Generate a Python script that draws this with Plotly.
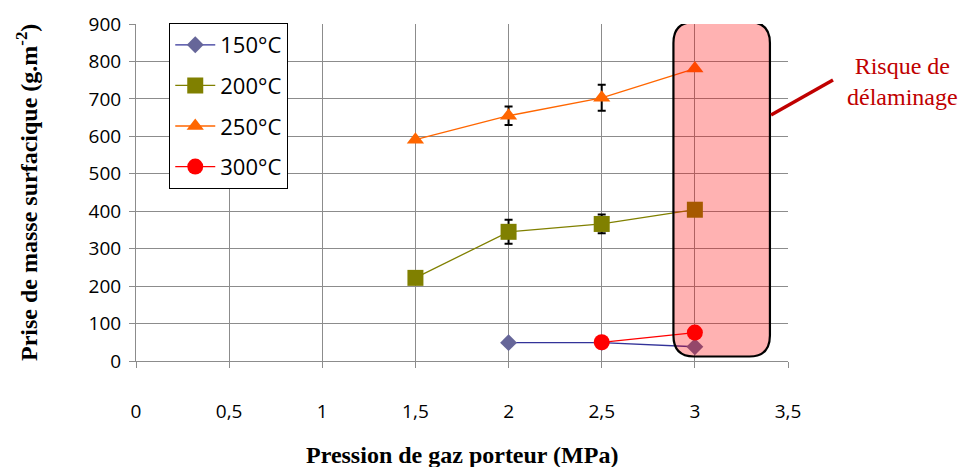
import plotly.graph_objects as go

# ---- data ----
x_150 = [2, 2.5, 3]
y_150 = [49, 49, 38]
x_200 = [1.5, 2, 2.5, 3]
y_200 = [222, 345, 366, 404]
err_200 = [0, 32, 25, 0]
x_250 = [1.5, 2, 2.5, 3]
y_250 = [591, 655, 703, 781]
err_250 = [0, 25, 35, 0]
x_300 = [2.5, 3]
y_300 = [50, 76]
names = ["150°C", "200°C", "250°C", "300°C"]
x_ticks = [0, 0.5, 1, 1.5, 2, 2.5, 3, 3.5]
x_ticktext = ["0", "0,5", "1", "1,5", "2", "2,5", "3", "3,5"]
y_ticks = [0, 100, 200, 300, 400, 500, 600, 700, 800, 900]
# risk zone (data units)
zone_x = [2.885, 3.403]
zone_y = [12, 905]

fig = go.Figure()
fig.add_trace(go.Scatter(x=x_150, y=y_150, name=names[0], legendgroup="a",
                         mode="lines+markers",
                         line=dict(color="#333399", width=1.3),
                         marker=dict(symbol="diamond", size=13, color="#666699")))
fig.add_trace(go.Scatter(x=x_200, y=y_200, name=names[1], legendgroup="b",
                         mode="lines+markers",
                         line=dict(color="#808000", width=1.3),
                         marker=dict(symbol="square", size=16, color="#808000"),
                         error_y=dict(type="data", array=err_200, color="black",
                                      thickness=2, width=4)))
fig.add_trace(go.Scatter(x=x_250, y=y_250, name=names[2], legendgroup="c",
                         mode="lines+markers",
                         line=dict(color="#FF6600", width=1.3),
                         marker=dict(symbol="triangle-up", size=15, color="#FF6600"),
                         error_y=dict(type="data", array=err_250, color="black",
                                      thickness=2, width=4)))
fig.add_trace(go.Scatter(x=x_300, y=y_300, name=names[3], legendgroup="d",
                         mode="lines+markers",
                         line=dict(color="#FF0000", width=1.3),
                         marker=dict(symbol="circle", size=16, color="#FF0000")))

# rounded rectangle (risk zone)
x0, x1 = zone_x
y0, y1 = zone_y
rx, ry = 0.11, 56
path = (f"M {x0+rx},{y1} L {x1-rx},{y1} Q {x1},{y1} {x1},{y1-ry} "
        f"L {x1},{y0+ry} Q {x1},{y0} {x1-rx},{y0} L {x0+rx},{y0} "
        f"Q {x0},{y0} {x0},{y0+ry} L {x0},{y1-ry} Q {x0},{y1} {x0+rx},{y1} Z")
fig.add_shape(type="path", path=path, xref="x", yref="y", layer="above",
              fillcolor="rgba(255,0,0,0.3)", line=dict(color="black", width=2.2))
fig.add_shape(type="line", xref="paper", yref="paper", x0=0.974, y0=0.730,
              x1=1.069, y1=0.834, line=dict(color="#C00000", width=3.5))
fig.add_annotation(xref="paper", yref="paper", x=1.175, y=0.828,
                   xanchor="center", yanchor="middle",
                   text="Risque de<br>délaminage", showarrow=False,
                   font=dict(family="Liberation Serif", size=24, color="#C00000"),
                   align="center")

# axis titles
fig.add_annotation(xref="paper", yref="paper", x=0.5, y=-0.279, yanchor="middle",
                   xanchor="center",
                   text="<b>Pression de gaz porteur (MPa)</b>", showarrow=False,
                   font=dict(family="Liberation Serif", size=24, color="black"))
fig.add_annotation(xref="paper", yref="paper", x=-0.168, y=0.5, xanchor="center",
                   yanchor="middle",
                   text="<b>Prise de masse surfacique (g.m<sup>-2</sup>)</b>",
                   showarrow=False, textangle=-90,
                   font=dict(family="Liberation Serif", size=24, color="black"))

axis_common = dict(showgrid=True, gridcolor="#8C8C8C", gridwidth=1,
                   showline=True, linecolor="#8C8C8C", linewidth=1,
                   ticks="outside", tickcolor="#8C8C8C", ticklen=6,
                   zeroline=False, automargin=False,
                   tickfont=dict(family="Open Sans", size=19, color="black"))
fig.update_xaxes(range=[0, 3.5], tickvals=x_ticks, ticktext=x_ticktext,
                 ticklabelstandoff=27, **axis_common)
fig.update_yaxes(range=[0, 900], tickvals=y_ticks, ticklabelstandoff=4,
                 **axis_common)

# page body has an 8px margin: figure is shrunk/shifted to compensate
fig.update_layout(
    width=962, height=459,
    margin=dict(l=128, r=182, t=16, b=106),
    plot_bgcolor="white", paper_bgcolor="white",
    showlegend=True,
    legend=dict(x=0.051, y=1.003, xanchor="left", yanchor="top",
                bgcolor="white", bordercolor="black", borderwidth=1,
                font=dict(family="Open Sans", size=22, color="black"),
                tracegroupgap=9, itemwidth=40),
)

fig.write_html("out.html")
